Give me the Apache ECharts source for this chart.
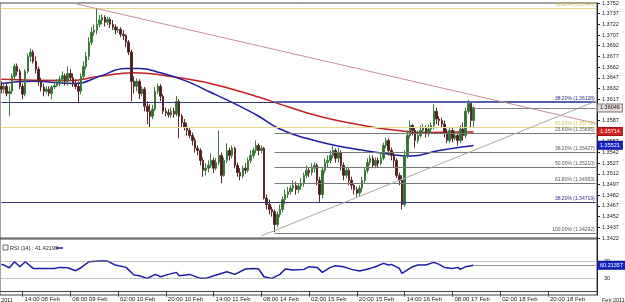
<!DOCTYPE html>
<html>
<head>
<meta charset="utf-8">
<script src="https://cdn.jsdelivr.net/npm/echarts@6/dist/echarts.min.js"></script>
<style>
  html, body { margin: 0; padding: 0; background: #fff; }
  #main { width: 625px; height: 302px; }
</style>
</head>
<body>
<div id="main"></div>
<script>
// hourly bars, 225 slots on the axis (last ~46 are empty right shift)
var barCount = 225;

// [open, close, low, high]
var ohlc = [
  [1.3635,1.3631,1.3625,1.3642],[1.3631,1.3635,1.3625,1.3639],[1.3635,1.3625,1.3621,1.3639],[1.3625,1.3628,1.3593,1.3635],
  [1.3628,1.3649,1.3624,1.3653],[1.3649,1.3663,1.3645,1.3667],[1.3663,1.3656,1.3650,1.3667],[1.3656,1.3635,1.3631,1.3659],
  [1.3635,1.3624,1.3617,1.3639],[1.3624,1.3656,1.3621,1.3659],[1.3656,1.3677,1.3653,1.3681],[1.3677,1.3683,1.3670,1.3688],
  [1.3683,1.3670,1.3667,1.3686],[1.3670,1.3659,1.3653,1.3677],[1.3659,1.3642,1.3636,1.3663],[1.3642,1.3634,1.3628,1.3647],
  [1.3634,1.3628,1.3621,1.3639],[1.3628,1.3631,1.3625,1.3635],[1.3631,1.3625,1.3621,1.3635],[1.3625,1.3634,1.3617,1.3636],
  [1.3634,1.3636,1.3631,1.3642],[1.3636,1.3639,1.3634,1.3645],[1.3639,1.3645,1.3635,1.3649],[1.3645,1.3650,1.3639,1.3656],
  [1.3650,1.3642,1.3636,1.3653],[1.3642,1.3653,1.3636,1.3663],[1.3653,1.3647,1.3642,1.3659],[1.3647,1.3639,1.3634,1.3653],
  [1.3639,1.3635,1.3631,1.3645],[1.3635,1.3628,1.3611,1.3642],[1.3628,1.3649,1.3624,1.3653],[1.3649,1.3663,1.3645,1.3670],
  [1.3663,1.3677,1.3659,1.3683],[1.3677,1.3697,1.3672,1.3704],[1.3697,1.3711,1.3693,1.3718],[1.3711,1.3714,1.3706,1.3722],
  [1.3714,1.3722,1.3708,1.3744],[1.3722,1.3728,1.3718,1.3735],[1.3728,1.3732,1.3722,1.3736],[1.3732,1.3725,1.3719,1.3735],
  [1.3725,1.3729,1.3721,1.3733],[1.3729,1.3722,1.3717,1.3732],[1.3722,1.3718,1.3714,1.3728],[1.3718,1.3714,1.3708,1.3722],
  [1.3714,1.3715,1.3710,1.3719],[1.3715,1.3708,1.3704,1.3718],[1.3708,1.3706,1.3700,1.3714],[1.3706,1.3697,1.3690,1.3708],
  [1.3697,1.3683,1.3679,1.3700],[1.3683,1.3642,1.3614,1.3686],[1.3642,1.3635,1.3625,1.3649],[1.3635,1.3642,1.3628,1.3646],
  [1.3642,1.3625,1.3617,1.3645],[1.3625,1.3631,1.3621,1.3635],[1.3631,1.3607,1.3600,1.3634],[1.3607,1.3600,1.3582,1.3614],
  [1.3600,1.3593,1.3577,1.3610],[1.3593,1.3603,1.3589,1.3609],[1.3603,1.3628,1.3600,1.3634],[1.3628,1.3635,1.3624,1.3639],
  [1.3635,1.3621,1.3614,1.3638],[1.3621,1.3600,1.3596,1.3624],[1.3600,1.3598,1.3593,1.3605],[1.3598,1.3595,1.3591,1.3603],
  [1.3595,1.3600,1.3591,1.3605],[1.3600,1.3596,1.3591,1.3605],[1.3596,1.3614,1.3593,1.3621],[1.3614,1.3593,1.3562,1.3617],
  [1.3593,1.3584,1.3578,1.3596],[1.3584,1.3578,1.3573,1.3589],[1.3578,1.3573,1.3566,1.3584],[1.3573,1.3566,1.3562,1.3577],
  [1.3566,1.3559,1.3552,1.3570],[1.3559,1.3548,1.3542,1.3563],[1.3548,1.3545,1.3538,1.3552],[1.3545,1.3531,1.3524,1.3548],
  [1.3531,1.3517,1.3508,1.3535],[1.3517,1.3520,1.3510,1.3527],[1.3520,1.3524,1.3514,1.3531],[1.3524,1.3531,1.3520,1.3541],
  [1.3531,1.3520,1.3513,1.3535],[1.3520,1.3528,1.3517,1.3534],[1.3528,1.3538,1.3524,1.3573],[1.3538,1.3510,1.3499,1.3542],
  [1.3510,1.3531,1.3508,1.3535],[1.3531,1.3545,1.3527,1.3555],[1.3545,1.3538,1.3531,1.3549],[1.3538,1.3548,1.3534,1.3552],
  [1.3548,1.3524,1.3520,1.3550],[1.3524,1.3514,1.3508,1.3528],[1.3514,1.3509,1.3503,1.3520],[1.3509,1.3520,1.3506,1.3524],
  [1.3520,1.3517,1.3512,1.3527],[1.3517,1.3531,1.3514,1.3535],[1.3531,1.3538,1.3527,1.3545],[1.3538,1.3545,1.3534,1.3549],
  [1.3545,1.3552,1.3541,1.3559],[1.3552,1.3545,1.3538,1.3555],[1.3545,1.3548,1.3541,1.3552],[1.3548,1.3478,1.3476,1.3550],
  [1.3478,1.3469,1.3462,1.3483],[1.3469,1.3462,1.3455,1.3476],[1.3462,1.3459,1.3452,1.3466],[1.3459,1.3441,1.3430,1.3462],
  [1.3441,1.3455,1.3437,1.3459],[1.3455,1.3462,1.3451,1.3469],[1.3462,1.3476,1.3458,1.3480],[1.3476,1.3483,1.3469,1.3490],
  [1.3483,1.3487,1.3478,1.3494],[1.3487,1.3492,1.3483,1.3496],[1.3492,1.3496,1.3487,1.3503],[1.3496,1.3490,1.3483,1.3501],
  [1.3490,1.3495,1.3485,1.3499],[1.3495,1.3499,1.3490,1.3506],[1.3499,1.3510,1.3494,1.3514],[1.3510,1.3517,1.3506,1.3524],
  [1.3517,1.3514,1.3508,1.3521],[1.3514,1.3520,1.3510,1.3527],[1.3520,1.3524,1.3514,1.3528],[1.3524,1.3503,1.3496,1.3527],
  [1.3503,1.3483,1.3472,1.3508],[1.3483,1.3517,1.3478,1.3521],[1.3517,1.3528,1.3513,1.3534],[1.3528,1.3531,1.3521,1.3538],
  [1.3531,1.3538,1.3527,1.3545],[1.3538,1.3545,1.3534,1.3552],[1.3545,1.3534,1.3528,1.3548],[1.3534,1.3542,1.3528,1.3549],
  [1.3542,1.3524,1.3517,1.3545],[1.3524,1.3510,1.3503,1.3528],[1.3510,1.3517,1.3506,1.3521],[1.3517,1.3503,1.3496,1.3520],
  [1.3503,1.3496,1.3490,1.3508],[1.3496,1.3490,1.3483,1.3499],[1.3490,1.3485,1.3480,1.3494],[1.3485,1.3492,1.3480,1.3496],
  [1.3492,1.3503,1.3487,1.3508],[1.3503,1.3517,1.3499,1.3521],[1.3517,1.3528,1.3513,1.3534],[1.3528,1.3534,1.3524,1.3538],
  [1.3534,1.3524,1.3520,1.3538],[1.3524,1.3531,1.3520,1.3535],[1.3531,1.3527,1.3521,1.3535],[1.3527,1.3534,1.3524,1.3541],
  [1.3534,1.3552,1.3531,1.3556],[1.3552,1.3559,1.3548,1.3563],[1.3559,1.3545,1.3538,1.3562],[1.3545,1.3538,1.3531,1.3549],
  [1.3538,1.3531,1.3521,1.3542],[1.3531,1.3510,1.3506,1.3534],[1.3510,1.3503,1.3496,1.3514],[1.3503,1.3469,1.3462,1.3510],
  [1.3469,1.3538,1.3466,1.3545],[1.3538,1.3566,1.3534,1.3573],[1.3566,1.3580,1.3562,1.3587],[1.3580,1.3573,1.3566,1.3582],
  [1.3573,1.3559,1.3549,1.3577],[1.3559,1.3566,1.3555,1.3573],[1.3566,1.3573,1.3563,1.3580],[1.3573,1.3577,1.3568,1.3582],
  [1.3577,1.3568,1.3563,1.3580],[1.3568,1.3575,1.3564,1.3581],[1.3575,1.3580,1.3570,1.3584],[1.3580,1.3600,1.3575,1.3610],
  [1.3600,1.3589,1.3582,1.3605],[1.3589,1.3587,1.3580,1.3593],[1.3587,1.3582,1.3577,1.3591],[1.3582,1.3570,1.3563,1.3587],
  [1.3570,1.3559,1.3555,1.3575],[1.3559,1.3573,1.3555,1.3577],[1.3573,1.3562,1.3556,1.3577],[1.3562,1.3566,1.3559,1.3573],
  [1.3566,1.3559,1.3552,1.3570],[1.3559,1.3575,1.3555,1.3580],[1.3575,1.3566,1.3559,1.3584],[1.3566,1.3600,1.3562,1.3605],
  [1.3600,1.3611,1.3596,1.3616],[1.3611,1.3587,1.3577,1.3614],[1.3587,1.3605,1.3577,1.3607]
];

// moving averages, [bar, price]
var maBlue = [[0,1.3639],[12,1.3642],[28,1.3639],[37,1.3649],[47,1.3660],[52,1.3660],[60,1.3654],[70,1.3642],
  [78,1.3628],[85,1.3616],[92,1.3603],[97,1.3593],[105,1.3575],[115,1.3562],[126,1.3552],[135,1.3546],
  [144,1.3541],[154,1.3537],[165,1.3545],[178,1.3552]];
var maRed = [[0,1.3645],[25,1.3643],[37,1.3649],[50,1.3654],[62,1.3650],[75,1.3642],[86,1.3632],[97,1.3620],
  [105,1.3610],[115,1.3598],[124,1.3589],[135,1.3581],[147,1.3574],[160,1.3570],[171,1.3571],[178,1.3571]];

// RSI(14), [bar, value]
var rsi = [[0,62.2],[1,60.6],[3,54.3],[5,68.4],[7,56.7],[9,68.4],[12,52.7],[16,52.7],[20,52.7],[22,55.1],
  [25,54.3],[28,47.3],[30,54.3],[33,68.4],[37,70.0],[40,70.0],[43,60.6],[47,55.1],[50,37.1],[52,35.5],
  [55,29.2],[58,38.6],[60,33.1],[63,38.6],[66,43.3],[67,35.5],[71,38.6],[75,29.2],[77,29.2],[81,37.1],
  [85,44.9],[88,38.6],[92,51.2],[95,52.7],[97,51.2],[99,33.1],[102,29.2],[105,38.6],[107,51.2],[110,48.8],
  [114,50.4],[116,56.7],[119,55.1],[121,43.3],[124,55.1],[126,59.0],[129,56.7],[132,50.4],[135,46.5],
  [139,52.7],[141,56.7],[144,64.5],[146,60.6],[147,62.2],[150,52.7],[151,41.0],[152,44.9],[155,56.7],
  [157,60.6],[160,60.6],[163,66.9],[165,62.2],[167,55.1],[170,52.7],[172,55.1],[173,50.4],[175,56.7],[178,60.2]];

var tickIdx = [8, 26, 44, 62, 80, 98, 116, 134, 152, 170, 188, 206];
var tickLabels = ['14:00 08 Feb', '08:00 09 Feb', '02:00 10 Feb', '20:00 10 Feb', '14:00 11 Feb', '08:00 14 Feb',
  '02:00 15 Feb', '20:00 15 Feb', '14:00 16 Feb', '08:00 17 Feb', '02:00 18 Feb', '20:00 18 Feb'];

// fibonacci levels
var fullFibPct = ['61.80%', '38.20%', '50.00%', '38.20%'];
var fullFibVal = [1.37444, 1.36128, 1.35772, 1.34719];
var partFibPct = ['23.60%', '38.20%', '50.00%', '61.80%', '100.00%'];
var partFibVal = [1.35695, 1.35427, 1.35210, 1.34993, 1.34292];
var partFibStart = 103;

// trend lines, [bar, price]
var trendDown = [[28, 1.3751], [224, 1.3583]];
var trendUp = [[98, 1.3425], [224, 1.3614]];

var lastPrice = 1.36046, redLast = 1.35714, blueLast = 1.35521;
var rsiLast = 60.21357, rsiShown = 41.42199;

var FONT = 'Liberation Sans';
var lastBar = barCount - 1;
var cats = [];
for (var i = 0; i < barCount; i++) cats.push(String(i));

function isTick(idx) { return tickIdx.indexOf(idx) >= 0; }

function seg(from, to, color, width, label) {
  return [
    { coord: from, lineStyle: { color: color, width: width, type: 'solid' }, label: label || { show: false } },
    { coord: to }
  ];
}
function fibLabel(text, color) {
  return { show: true, position: 'insideEndTop', distance: 1, fontSize: 5, fontFamily: FONT,
    color: color, formatter: text };
}

var levelLines = [];
fullFibVal.forEach(function (v, k) {
  var blue = fullFibPct[k] === '38.20%';
  levelLines.push(seg([0, v], [lastBar, v], blue ? '#33337a' : '#e6d98e', 1,
    fibLabel(fullFibPct[k] + ' (' + v.toFixed(5) + ')', blue ? '#2a2a8a' : '#d2bc55')));
});
partFibVal.forEach(function (v, k) {
  levelLines.push(seg([partFibStart, v], [lastBar, v], '#777', 1,
    fibLabel(partFibPct[k] + ' (' + v.toFixed(5) + ')', '#555')));
});
levelLines.push(seg([partFibStart, fullFibVal[1]], [lastBar, fullFibVal[1]], '#5564a8', 2));
levelLines.push(seg(trendDown[0], trendDown[1], '#c99090', 1));
levelLines.push(seg(trendUp[0], trendUp[1], '#a8a8a8', 1));
levelLines.push(seg([ohlc.length - 1, lastPrice], [lastBar, lastPrice], '#888', 1));

var chart = echarts.init(document.getElementById('main'));
chart.setOption({
  animation: false,
  backgroundColor: '#fff',
  grid: [
    { left: 0, top: 0, width: 597, height: 238, show: true, borderColor: '#444', borderWidth: 1 },
    { left: 0, top: 239, width: 597, height: 56, show: true, borderColor: '#444', borderWidth: 1 }
  ],
  xAxis: [
    { type: 'category', gridIndex: 0, data: cats, boundaryGap: true,
      axisLine: { show: false }, axisTick: { show: false }, axisLabel: { show: false }, splitLine: { show: false } },
    { type: 'category', gridIndex: 1, data: cats, boundaryGap: true,
      axisLine: { show: true, lineStyle: { color: '#444' } },
      axisTick: { show: true, alignWithLabel: true, interval: isTick, length: 6, lineStyle: { color: '#444' } },
      axisLabel: { interval: isTick, align: 'left', fontSize: 6, fontFamily: FONT, color: '#222', margin: 1,
        padding: [0, 0, 0, 2],
        formatter: function (val, idx) { var k = tickIdx.indexOf(idx); return k >= 0 ? tickLabels[k] : ''; } },
      splitLine: { show: false } }
  ],
  yAxis: [
    { type: 'value', gridIndex: 0, position: 'right', min: 1.3422, max: 1.3752, interval: 0.0015,
      axisLine: { show: true, lineStyle: { color: '#222' } },
      axisTick: { show: true, length: 3, lineStyle: { color: '#222' } },
      axisLabel: { fontSize: 5.5, fontFamily: FONT, color: '#222', margin: 5,
        formatter: function (v) { return v.toFixed(4); } },
      splitLine: { show: false } },
    { type: 'value', gridIndex: 1, position: 'right', min: -10, max: 122, interval: 40,
      axisLine: { show: true, lineStyle: { color: '#222' } },
      axisTick: { show: false },
      axisLabel: { fontSize: 5.5, fontFamily: FONT, color: '#222', margin: 7,
        formatter: function (v) { return (v === 30 || v === 70) ? String(v) : ''; } },
      splitLine: { show: false } }
  ],
  series: [
    { name: 'EURUSD', type: 'candlestick', xAxisIndex: 0, yAxisIndex: 0, data: ohlc, barWidth: 2, z: 3,
      itemStyle: { color: '#2f6f2f', color0: '#4a1c1c', borderColor: '#3c7a3c', borderColor0: '#5a2a2a', borderWidth: 1 } },
    { name: 'MA red', type: 'line', xAxisIndex: 0, yAxisIndex: 0, data: maRed, smooth: true, showSymbol: false,
      lineStyle: { color: '#c81e1e', width: 1.5 }, z: 2,
      markLine: { silent: true, symbol: ['none', 'none'], animation: false, data: levelLines } },
    { name: 'MA blue', type: 'line', xAxisIndex: 0, yAxisIndex: 0, data: maBlue, smooth: true, showSymbol: false,
      lineStyle: { color: '#1c1ca8', width: 1.5 }, z: 2 },
    { name: 'RSI', type: 'line', xAxisIndex: 1, yAxisIndex: 1, data: rsi, showSymbol: false,
      lineStyle: { color: '#1c1ca8', width: 1.5 },
      markLine: { silent: true, symbol: ['none', 'none'], animation: false,
        data: [
          [{ coord: [0, 70], lineStyle: { color: '#888', type: 'dotted', width: 1 }, label: { show: false } }, { coord: [lastBar, 70] }],
          [{ coord: [0, 30], lineStyle: { color: '#888', type: 'dotted', width: 1 }, label: { show: false } }, { coord: [lastBar, 30] }],
          seg([rsi[rsi.length - 1][0], rsiLast], [lastBar, rsiLast], '#999', 1)
        ] } }
  ]
});

function tag(yIdx, value, text, bg, fg, border) {
  var y = chart.convertToPixel({ yAxisIndex: yIdx }, value);
  return { type: 'text', x: 598, y: y, z: 100,
    style: { text: text, fill: fg, backgroundColor: bg, borderColor: border, borderWidth: 1,
      padding: [1, 2, 0, 2], font: '5.5px "' + FONT + '"', align: 'left', verticalAlign: 'middle' } };
}

chart.setOption({
  graphic: [
    tag(0, lastPrice, lastPrice.toFixed(5), '#e4dede', '#111', '#8a7070'),
    tag(0, redLast, redLast.toFixed(5), '#d42020', '#fff', '#a01010'),
    tag(0, blueLast, blueLast.toFixed(5), '#1426c4', '#fff', '#0a1090'),
    tag(1, rsiLast, rsiLast.toFixed(5), '#1426c4', '#fff', '#0a1090'),
    { type: 'rect', shape: { x: 3, y: 245, width: 5, height: 5 }, style: { fill: '#fff', stroke: '#666', lineWidth: 1 } },
    { type: 'text', x: 10, y: 248, style: { text: 'RSI (14) : ' + rsiShown.toFixed(5), fill: '#222',
      font: '5.5px "' + FONT + '"', align: 'left', verticalAlign: 'middle' } },
    { type: 'line', shape: { x1: 56, y1: 248, x2: 63, y2: 248 }, style: { stroke: '#1c1ca8', lineWidth: 1.5 } },
    { type: 'text', x: 1, y: 297, style: { text: '2011', fill: '#222', font: '5.5px "' + FONT + '"', align: 'left', verticalAlign: 'top' } },
    { type: 'text', x: 602, y: 297, style: { text: 'Feb 2011', fill: '#222', font: '5.5px "' + FONT + '"', align: 'left', verticalAlign: 'top' } }
  ]
});
</script>
</body>
</html>
